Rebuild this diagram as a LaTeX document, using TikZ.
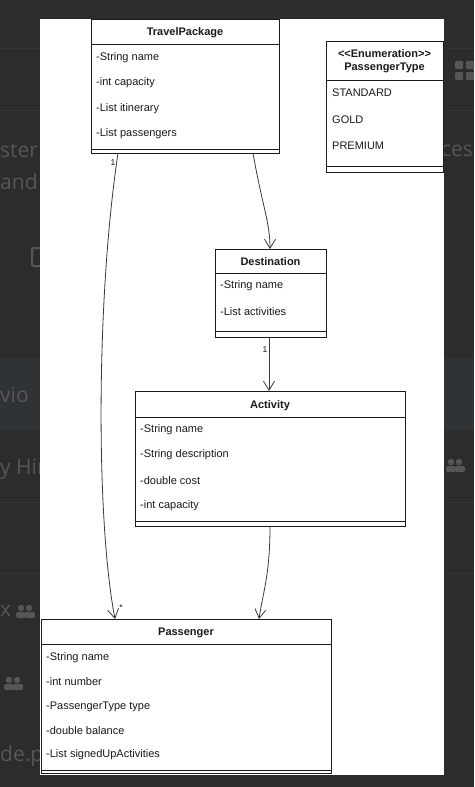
\documentclass[tikz,border=0pt]{standalone}
\usepackage{fontspec}
\setmainfont{Liberation Sans}
\newfontfamily\uifont{Open Sans}
\usetikzlibrary{arrows.meta}

\definecolor{backdrop}{HTML}{2C2C2C}
\definecolor{band}{HTML}{2F3336}
\definecolor{rule}{HTML}{363636}
\definecolor{uitext}{HTML}{565656}
\definecolor{ink}{HTML}{1A1A1A}
\definecolor{edge}{HTML}{3A3A3A}

\tikzset{
  classbox/.style={draw=ink, line width=0.9pt, fill=white, anchor=north west,
    inner sep=0pt, outer sep=0pt},
  field/.style={anchor=west, inner sep=0pt, font=\fontsize{11}{12}\selectfont, text=ink},
  title/.style={inner sep=0pt, font=\bfseries\fontsize{11}{12}\selectfont, text=ink},
  divider/.style={draw=ink, line width=0.8pt},
  assoc/.style={draw=edge, line width=0.8pt,
    -{Straight Barb[length=9pt,width=11pt,line width=0.8pt]}},
  mult/.style={inner sep=0pt, font=\fontsize{8.5}{10}\selectfont, text=ink},
  ghost/.style={inner sep=0pt, font=\uifont\fontsize{21}{24}\selectfont, text=uitext},
}

\begin{document}
\begin{tikzpicture}[x=1pt, y=-1pt]
  \useasboundingbox (0,0) rectangle (474,787);

  % ---- application backdrop behind the dialog ----
  \fill[backdrop] (0,0) rectangle (474,787);
  \fill[band] (0,358) rectangle (474,430);
  \foreach \yy in {48,110,502,573} {
    \draw[rule, line width=0.6pt] (0,\yy) -- (474,\yy);
  }
  \node[ghost, anchor=west] (g1) at (0,151) {ster};
  \node[ghost, anchor=west] (g2) at (0,182) {and};
  \node[ghost, anchor=west] (g3) at (0,395) {vio};
  \node[ghost, anchor=west] (g4) at (0,469) {y Hir};
  \node[ghost, anchor=west] (g5) at (0,611) {x};
  \node[ghost, anchor=west] (g6) at (0,756) {de.pr};
  \node[ghost, anchor=west] (g7) at (441,151) {ces};
  \draw[uitext, line width=2pt, rounded corners=2pt] (32,248) rectangle (44,266);
  % grid icon
  \foreach \gx in {455,466} \foreach \gy in {61,72} {
    \fill[uitext, rounded corners=1pt] (\gx,\gy) rectangle ++(8,8);
  }
  % people icons
  \foreach \px/\py in {16/612, 4/684, 446/466} {
    \fill[uitext] (\px+5,\py-4) circle (3.2);
    \fill[uitext] (\px+13,\py-4) circle (3.2);
    \fill[uitext, rounded corners=2pt] (\px,\py+6) rectangle (\px+10,\py);
    \fill[uitext, rounded corners=2pt] (\px+9,\py+6) rectangle (\px+19,\py);
  }

  % ---- dialog canvas ----
  \fill[white] (40,19) rectangle (444,774.5);

  % ---- TravelPackage ----
  \node[classbox, minimum width=188pt, minimum height=134pt] (tp) at (91,19) {};
  \draw[divider] (91,44) -- (279,44);
  \draw[divider] (91,149) -- (279,149);
  \node[title] (tpT) at (185,33) {TravelPackage};
  \node[field] (tp1) at (96,58) {-String name};
  \node[field] (tp2) at (96,83) {-int capacity};
  \node[field] (tp3) at (96,109) {-List itinerary};
  \node[field] (tp4) at (96,134) {-List passengers};

  % ---- PassengerType ----
  \node[classbox, minimum width=117pt, minimum height=131pt] (pt) at (326,41) {};
  \draw[divider] (326,80) -- (443,80);
  \draw[divider] (326,166) -- (443,166);
  \node[title] (ptS) at (384.5,54) {{<}{<}Enumeration{>}{>}};
  \node[title] (ptT) at (384.5,68) {PassengerType};
  \node[field] (pt1) at (332,93) {STANDARD};
  \node[field] (pt2) at (332,120) {GOLD};
  \node[field] (pt3) at (332,146) {PREMIUM};

  % ---- Destination ----
  \node[classbox, minimum width=111pt, minimum height=88pt] (de) at (215,249) {};
  \draw[divider] (215,273) -- (326,273);
  \draw[divider] (215,331) -- (326,331);
  \node[title] (deT) at (270.5,262) {Destination};
  \node[field] (de1) at (220,286) {-String name};
  \node[field] (de2) at (220,312) {-List activities};

  % ---- Activity ----
  \node[classbox, minimum width=270pt, minimum height=135pt] (ac) at (135,391) {};
  \draw[divider] (135,417) -- (405,417);
  \draw[divider] (135,521) -- (405,521);
  \node[title] (acT) at (270,406) {Activity};
  \node[field] (ac1) at (140,430) {-String name};
  \node[field] (ac2) at (140,455) {-String description};
  \node[field] (ac3) at (140,481) {-double cost};
  \node[field] (ac4) at (140,506) {-int capacity};

  % ---- Passenger ----
  \node[classbox, minimum width=290pt, minimum height=154pt] (pa) at (41,619) {};
  \draw[divider] (41,644) -- (331,644);
  \draw[divider] (41,770) -- (331,770);
  \node[title] (paT) at (186,633) {Passenger};
  \node[field] (pa1) at (46,658) {-String name};
  \node[field] (pa2) at (46,682) {-int number};
  \node[field] (pa3) at (46,707) {-PassengerType type};
  \node[field] (pa4) at (46,731) {-double balance};
  \node[field] (pa5) at (46,755) {-List signedUpActivities};

  % ---- connector end points on the class boxes ----
  \coordinate (tpL) at ([xshift=27pt]tp.south west);
  \coordinate (tpR) at ([xshift=162pt]tp.south west);
  \coordinate (deTop) at ([xshift=55pt]de.north west);
  \coordinate (deBot) at ([xshift=54pt]de.south west);
  \coordinate (acTop) at ([xshift=134pt]ac.north west);
  \coordinate (acBot) at ([xshift=135pt]ac.south west);
  \coordinate (paL) at ([xshift=74pt]pa.north west);
  \coordinate (paR) at ([xshift=218pt]pa.north west);

  % ---- associations ----
  \draw[assoc] (tpL) .. controls (96,300) and (96,520) .. (paL);
  \draw[assoc] (tpR) .. controls (262,205) and (270,222) .. (deTop);
  \draw[assoc] (deBot) -- (acTop);
  \draw[assoc] (acBot) .. controls (270,575) and (263,592) .. (paR);

  % ---- multiplicities ----
  \node[mult] (m1) at (113,163) {1};
  \node[mult] (m2) at (121,608) {*};
  \node[mult] (m3) at (265,350) {1};
\end{tikzpicture}
\end{document}
